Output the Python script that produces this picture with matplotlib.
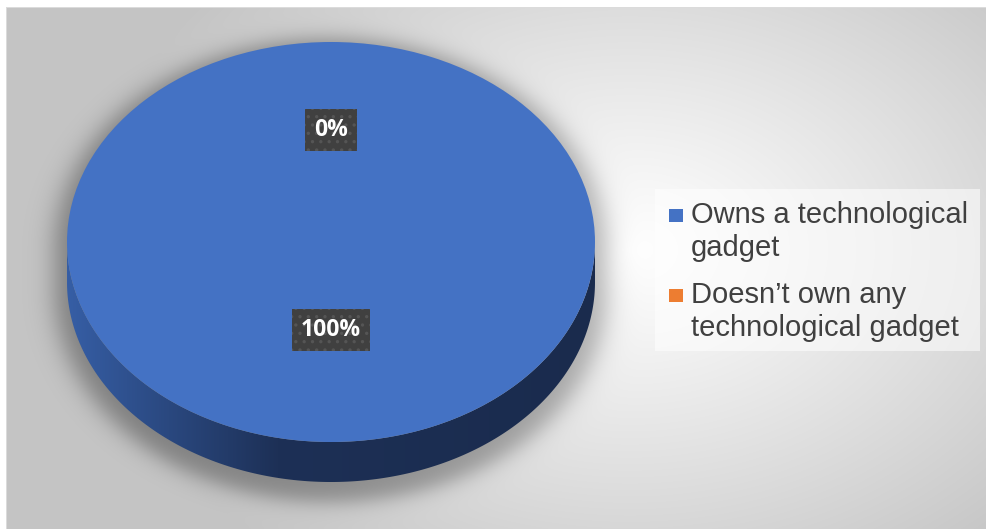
import numpy as np
import matplotlib
matplotlib.use("Agg")
import matplotlib.pyplot as plt
from matplotlib.patches import Polygon, Rectangle

# --- Data ---
categories = ["Owns a technological\ngadget", "Doesn\u2019t own any\ntechnological gadget"]
shares = [100, 0]
colors = ["#4472C4", "#ED7D31"]

# --- Layout (pixels) ---
W, H = 986, 529
CX, CY = 331, 242          # centre of the pie's top face
A, B = 264, 200            # semi-axes of the top face
DEPTH = 40                 # thickness of the pie

fig = plt.figure(figsize=(W / 100, H / 100), dpi=100)

# --- Background: soft radial gradient plus the pie's drop shadow ---
yy, xx = np.mgrid[0:H, 0:W] + 0.5
r = np.hypot((xx - 630) / 420, (yy - 250) / 300)
gray = 255 - 58 * np.clip(r / 1.3, 0, 1) ** 1.1

yc = np.clip(yy, CY + 8, CY + DEPTH + 8)
rs = np.hypot((xx - CX) / (A + 12), (yy - yc) / (B + 12))
dpx = (rs - 1) * (B + 12)
gray = gray - 70 / (1 + np.exp(dpx / 6))

img = np.repeat((gray / 255)[:, :, None], 3, axis=2)
img[:7, :] = 1
img[:, :6] = 1
img[7, 6:] = 0.86
img[7:, 6] = 0.86

bg_ax = fig.add_axes([0, 0, 1, 1])
bg_ax.imshow(img, extent=(0, W, H, 0), interpolation="bilinear", aspect="auto")
bg_ax.set_xlim(0, W)
bg_ax.set_ylim(H, 0)
bg_ax.axis("off")

# --- Pie ---
xlim = (-1.25, 1.25)
ylim = (-1.45, 1.2)
ax_w = (xlim[1] - xlim[0]) * A
ax_h = (ylim[1] - ylim[0]) * B
ax_left = CX + xlim[0] * A
ax_bottom = (H - CY) + ylim[0] * B
pie_ax = fig.add_axes([ax_left / W, ax_bottom / H, ax_w / W, ax_h / H])
pie_ax.patch.set_visible(False)

wedges, _, autotexts = pie_ax.pie(
    shares, colors=colors, startangle=90, counterclock=False,
    autopct=lambda p: f"{p:.0f}%", pctdistance=0.5,
    wedgeprops=dict(linewidth=0),
)
for w in wedges:
    w.set_zorder(2)

# extruded side of each wedge (front half only)
d = DEPTH / B
side_cmap = matplotlib.colors.LinearSegmentedColormap.from_list(
    "side", [(0.0, (54 / 255, 94 / 255, 165 / 255)),
             (0.4, (29 / 255, 48 / 255, 86 / 255)),
             (1.0, (26 / 255, 43 / 255, 77 / 255))])
grad = np.linspace(0, 1, 256)[None, :]
for w in wedges:
    if abs(w.theta2 - w.theta1) < 1e-6:
        continue
    t = np.radians(np.linspace(w.theta1, w.theta2, 720))
    t = t[np.sin(t) <= 0]
    if len(t) < 2:
        continue
    top = np.column_stack([np.cos(t), np.sin(t)])
    bot = np.column_stack([np.cos(t[::-1]), np.sin(t[::-1]) - d])
    poly = Polygon(np.vstack([top, bot]), closed=True, facecolor="none",
                   edgecolor="none", transform=pie_ax.transData)
    pie_ax.add_patch(poly)
    im = pie_ax.imshow(grad, cmap=side_cmap, extent=(-1, 1, -1 - d, 0),
                       aspect="auto", zorder=1, interpolation="bilinear")
    im.set_clip_path(poly)

pie_ax.set_aspect("auto")
pie_ax.set_xlim(*xlim)
pie_ax.set_ylim(*ylim)
pie_ax.axis("off")

plt.rcParams["hatch.linewidth"] = 1.2
for t in autotexts:
    t.set(fontsize=16.5, color="white", fontweight="bold",
          family=["Open Sans", "DejaVu Sans"], zorder=5)
    x, y = t.get_position()
    t.set_position((x, y + 0.06))
    t.set_bbox(dict(boxstyle="square,pad=0.38", facecolor="#404040",
                    edgecolor="#555555", linewidth=0, hatch=".."))

# --- Legend ---
bg_ax.add_patch(Rectangle((655, 189), 325, 162, facecolor="white",
                          alpha=0.55, edgecolor="none", zorder=3))
for i, (label, col) in enumerate(zip(categories, colors)):
    base = 223 + i * 80
    bg_ax.add_patch(Rectangle((669, base - 14), 14, 13, facecolor=col,
                              edgecolor="none", zorder=4))
    for j, line in enumerate(label.split("\n")):
        bg_ax.text(691, base + j * 33.5, line, fontsize=21,
                   family="Liberation Sans", color="#404040",
                   va="baseline", ha="left", zorder=4)

fig.savefig("out.png", dpi=100)
